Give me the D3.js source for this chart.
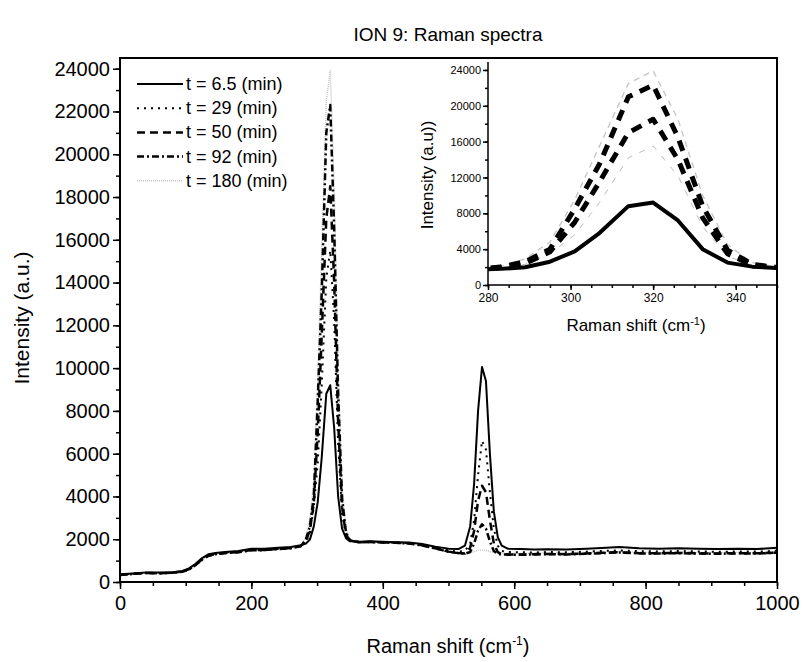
<!DOCTYPE html>
<html>
<head>
<meta charset="utf-8">
<script src="https://cdn.jsdelivr.net/npm/d3@7"></script>
<style>
  body { margin: 0; background: #fff; }
  svg { font-family: "Liberation Sans", Arial, sans-serif; }
</style>
</head>
<body>
<svg id="chart" width="803" height="662"></svg>
<script>
// Raman shift (cm-1), shared by all spectra
const SHIFT = [0,20,40,60,80,95,105,115,125,135,145,160,180,200,220,240,260,275,283,289,
  295,301,307,314,320,326,332,338,344,350,356,365,380,400,420,440,460,480,500,515,
  525,533,539,545,551,557,563,569,575,581,590,610,630,650,680,710,740,760,790,820,
  850,880,910,940,970,1000];

const T65 = [360,400,450,440,460,520,640,850,1120,1300,1360,1400,1450,1560,1560,1600,1640,1720,1800,1980,
  2600,3750,5800,8800,9200,7200,4000,2500,2050,1900,1900,1880,1900,1880,1860,1850,1780,1650,1560,1540,
  1700,2600,4600,8000,10050,9400,6000,3300,2100,1700,1560,1540,1520,1530,1520,1560,1600,1640,1580,1560,
  1580,1560,1540,1560,1540,1600];
const T29 = [340,390,430,420,440,500,610,820,1080,1260,1330,1380,1420,1530,1520,1570,1610,1690,1850,2300,
  3500,5600,9200,14200,15500,12200,6500,3200,2200,1950,1900,1870,1880,1860,1840,1820,1740,1620,1480,1420,
  1450,1800,2900,5000,6600,6200,4200,2500,1700,1450,1400,1390,1380,1400,1390,1420,1460,1480,1440,1430,
  1450,1430,1410,1430,1420,1460];
const T50 = [330,380,420,410,430,490,600,800,1060,1240,1310,1360,1400,1500,1500,1550,1590,1680,1950,2400,
  3700,7000,11500,17000,18500,14000,7500,3500,2200,1950,1900,1860,1870,1850,1830,1810,1720,1580,1420,1360,
  1330,1600,2400,3800,4500,4200,2900,1800,1400,1300,1290,1280,1300,1310,1300,1330,1370,1390,1350,1340,
  1360,1340,1330,1350,1340,1380];
const T92 = [330,380,420,410,430,480,590,790,1050,1230,1300,1350,1390,1490,1490,1540,1580,1670,2000,2600,
  4000,8500,13500,21000,22300,16500,8800,3900,2300,1950,1900,1860,1870,1850,1830,1800,1710,1570,1410,1350,
  1320,1400,1800,2400,2700,2500,1900,1450,1320,1280,1280,1270,1290,1300,1290,1320,1360,1380,1340,1330,
  1350,1330,1320,1340,1330,1370];
const T180 = [320,370,410,400,420,470,580,780,1040,1220,1290,1340,1380,1480,1480,1530,1570,1660,2100,2900,
  4800,9500,15500,22500,23900,18500,10000,4500,2500,2000,1900,1850,1860,1840,1820,1790,1700,1560,1400,1360,
  1350,1380,1420,1480,1500,1480,1420,1380,1360,1350,1340,1330,1350,1360,1350,1370,1400,1420,1390,1380,
  1400,1380,1370,1390,1380,1420];

const LABELS = ['t = 6.5 (min)', 't = 29 (min)', 't = 50 (min)', 't = 92 (min)', 't = 180 (min)'];
const SERIES_VALUES = [T65, T29, T50, T92, T180];

const X_TICKS = [0, 200, 400, 600, 800, 1000];
const Y_TICKS = [0,2000,4000,6000,8000,10000,12000,14000,16000,18000,20000,22000,24000];
const INSET_X_TICKS = [280, 300, 320, 340];
const INSET_Y_TICKS = [0, 4000, 8000, 12000, 16000, 20000, 24000];

// line looks: main plot and inset
const mainStyle = [
  {stroke: '#000', width: 2, dash: null},
  {stroke: '#000', width: 2, dash: '2,5'},
  {stroke: '#000', width: 2.5, dash: '8,5'},
  {stroke: '#000', width: 2.5, dash: '7,3,2,3'},
  {stroke: '#c4c4c4', width: 1.5, dash: '1,1'}
];
const insetStyle = [
  {stroke: '#000', width: 4, dash: null},
  {stroke: '#bbb', width: 1, dash: '6,8'},
  {stroke: '#000', width: 5, dash: '11,8'},
  {stroke: '#000', width: 5, dash: '11,8'},
  {stroke: '#c4c4c4', width: 1.3, dash: '6,5'}
];

const svg = d3.select('#chart');
const series = SERIES_VALUES.map((vals, i) => ({label: LABELS[i], idx: i,
  pts: SHIFT.map((s, j) => [s, vals[j]])}));
const drawOrder = [4, 1, 2, 3, 0];

// ---- main plot
const x = d3.scaleLinear().domain([0, 1000]).range([120, 777]);
const y = d3.scaleLinear().domain([0, 24500]).range([582, 58]);

svg.append('clipPath').attr('id', 'clipMain')
  .append('rect').attr('x', 120).attr('y', 58).attr('width', 657).attr('height', 524);

const line = d3.line().x(d => x(d[0])).y(d => y(d[1]));
const gLines = svg.append('g').attr('clip-path', 'url(#clipMain)');
drawOrder.forEach(i => {
  const st = mainStyle[i];
  gLines.append('path').datum(series[i].pts)
    .attr('d', line).attr('fill', 'none')
    .attr('stroke', st.stroke).attr('stroke-width', st.width)
    .attr('stroke-dasharray', st.dash).attr('stroke-linejoin', 'round');
});

function styleAxis(g, fs) {
  g.select('.domain').remove();
  g.selectAll('.tick line').attr('stroke', '#000').attr('stroke-width', 1.5);
  g.selectAll('.tick text').attr('fill', '#000').style('font-size', fs + 'px');
}

// minor ticks
svg.append('g').attr('transform', 'translate(0,582)')
  .call(d3.axisBottom(x).tickValues(d3.range(0, 1001, 50)).tickSize(4).tickFormat(''))
  .call(g => styleAxis(g, 20));
svg.append('g').attr('transform', 'translate(120,0)')
  .call(d3.axisLeft(y).tickValues(d3.range(0, 24001, 1000)).tickSize(4).tickFormat(''))
  .call(g => styleAxis(g, 20));
// major ticks
svg.append('g').attr('transform', 'translate(0,582)')
  .call(d3.axisBottom(x).tickValues(X_TICKS).tickSize(7).tickPadding(7).tickFormat(d3.format('d')))
  .call(g => styleAxis(g, 20));
svg.append('g').attr('transform', 'translate(120,0)')
  .call(d3.axisLeft(y).tickValues(Y_TICKS).tickSize(7).tickPadding(3).tickFormat(d3.format('d')))
  .call(g => styleAxis(g, 20));

svg.append('rect').attr('x', 120).attr('y', 58).attr('width', 657).attr('height', 524)
  .attr('fill', 'none').attr('stroke', '#000').attr('stroke-width', 2);

svg.append('text').attr('x', 448).attr('y', 41).attr('text-anchor', 'middle')
  .style('font-size', '19px').text('ION 9: Raman spectra');

const xt = svg.append('text').attr('x', 448).attr('y', 653).attr('text-anchor', 'middle')
  .style('font-size', '20px');
xt.append('tspan').text('Raman shift (cm');
xt.append('tspan').attr('dy', -8).style('font-size', '12px').text('-1');
xt.append('tspan').attr('dy', 8).text(')');

svg.append('text').attr('transform', 'translate(29,318) rotate(-90)')
  .attr('text-anchor', 'middle').style('font-size', '21px').text('Intensity (a.u.)');

// legend
const leg = svg.append('g');
series.forEach((s, i) => {
  const ly = 84 + i * 24.2;
  const st = mainStyle[i];
  leg.append('line').attr('x1', 137).attr('x2', 183).attr('y1', ly).attr('y2', ly)
    .attr('stroke', st.stroke).attr('stroke-width', st.width).attr('stroke-dasharray', st.dash);
  leg.append('text').attr('x', 186).attr('y', ly + 6).style('font-size', '18px').text(s.label);
});

// ---- inset
const ix = d3.scaleLinear().domain([280, 350]).range([488, 777]);
const iy = d3.scaleLinear().domain([0, 25000]).range([285, 61]);

svg.append('rect').attr('x', 488).attr('y', 59).attr('width', 288).attr('height', 226).attr('fill', '#fff');
svg.append('clipPath').attr('id', 'clipInset')
  .append('rect').attr('x', 488).attr('y', 59).attr('width', 289).attr('height', 226);

const iline = d3.line().x(d => ix(d[0])).y(d => iy(d[1]));
const gInset = svg.append('g').attr('clip-path', 'url(#clipInset)');
drawOrder.forEach(i => {
  const st = insetStyle[i];
  gInset.append('path').datum(series[i].pts)
    .attr('d', iline).attr('fill', 'none')
    .attr('stroke', st.stroke).attr('stroke-width', st.width)
    .attr('stroke-dasharray', st.dash).attr('stroke-linejoin', 'round');
});

svg.append('g').attr('transform', 'translate(0,285)')
  .call(d3.axisBottom(ix).tickValues(d3.range(280, 351, 5)).tickSize(3).tickFormat(''))
  .call(g => styleAxis(g, 11));
svg.append('g').attr('transform', 'translate(488,0)')
  .call(d3.axisLeft(iy).tickValues(d3.range(0, 24001, 2000)).tickSize(3).tickFormat(''))
  .call(g => styleAxis(g, 11));
svg.append('g').attr('transform', 'translate(0,285)')
  .call(d3.axisBottom(ix).tickValues(INSET_X_TICKS).tickSize(5).tickPadding(3).tickFormat(d3.format('d')))
  .call(g => styleAxis(g, 12));
svg.append('g').attr('transform', 'translate(488,0)')
  .call(d3.axisLeft(iy).tickValues(INSET_Y_TICKS).tickSize(5).tickPadding(2).tickFormat(d3.format('d')))
  .call(g => styleAxis(g, 11));

// inset frame: left and bottom (right side is the main frame)
svg.append('path').attr('d', d3.line()([[488, 62], [488, 285], [777, 285]]))
  .attr('fill', 'none').attr('stroke', '#000').attr('stroke-width', 1.5);
svg.append('line').attr('x1', 777).attr('x2', 777).attr('y1', 58).attr('y2', 285)
  .attr('stroke', '#000').attr('stroke-width', 2);

const ixt = svg.append('text').attr('x', 636).attr('y', 331).attr('text-anchor', 'middle')
  .style('font-size', '17px');
ixt.append('tspan').text('Raman shift (cm');
ixt.append('tspan').attr('dy', -6).style('font-size', '11px').text('-1');
ixt.append('tspan').attr('dy', 6).text(')');

svg.append('text').attr('transform', 'translate(433,175) rotate(-90)')
  .attr('text-anchor', 'middle').style('font-size', '17px').text('Intensity (a.u))');
</script>
</body>
</html>
